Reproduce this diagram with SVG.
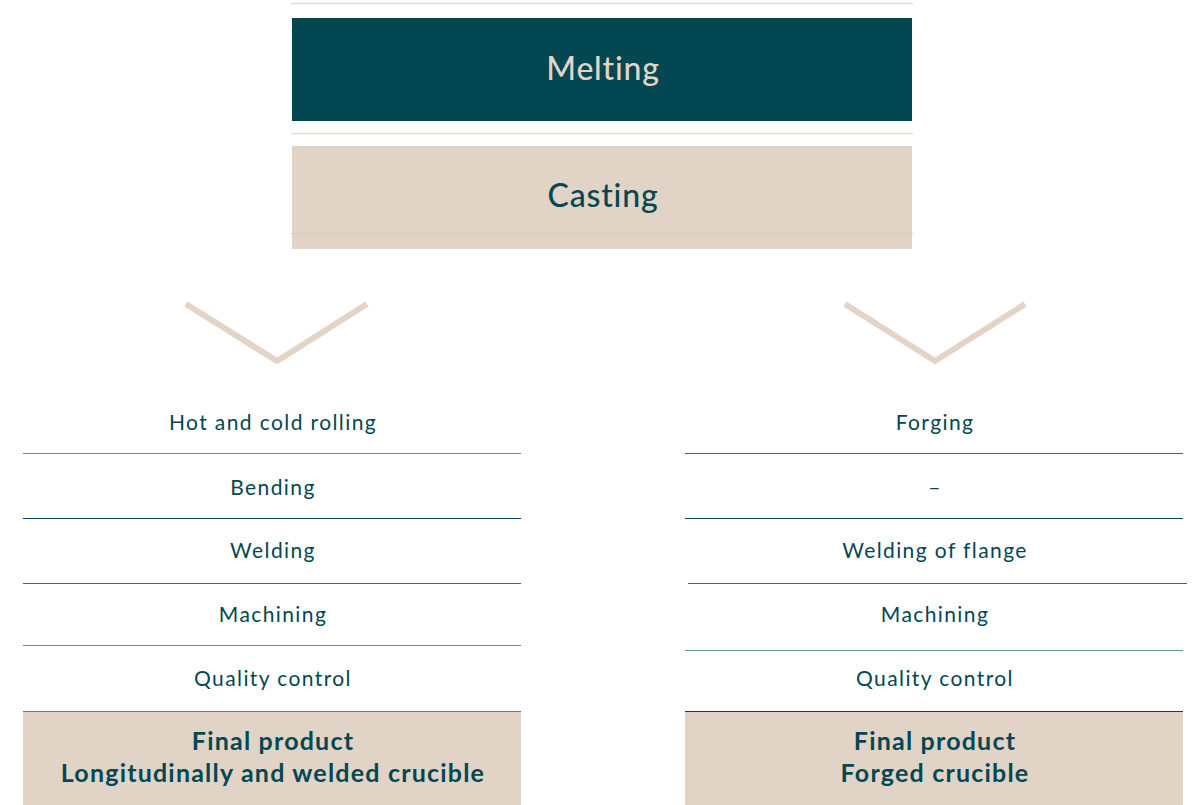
<svg xmlns="http://www.w3.org/2000/svg" width="1198" height="805" viewBox="0 0 1198 805">
<style>
text{font-variant-ligatures:none}
.sep{stroke:#e6dbcf;stroke-width:1.5}
.row{stroke:#024751;stroke-width:1}
.lbl{font-family:Lato,"Open Sans",sans-serif;font-size:21px;letter-spacing:1.4px;fill:#024751;text-anchor:middle}
.big{font-family:Lato,"Open Sans",sans-serif;font-size:32px;letter-spacing:0.8px;font-weight:500;text-anchor:middle}
.fin{font-family:Lato,"Open Sans",sans-serif;font-size:25px;letter-spacing:1.2px;font-weight:bold;fill:#024751;text-anchor:middle}
.chev{fill:none;stroke:#e2d5c8;stroke-width:6}
</style>
<rect width="1198" height="805" fill="#ffffff"/>
<g id="separators">
<line class="sep" x1="291" y1="3.5" x2="913" y2="3.5"/>
<line class="sep" x1="291" y1="133.5" x2="913" y2="133.5"/>
</g>
<g id="melting">
<rect x="292" y="18" width="620" height="103" fill="#024751"/>
<text class="big" x="603" y="80" fill="#e2d4c6">Melting</text>
</g>
<g id="casting">
<rect x="292" y="146" width="620" height="103" fill="#e1d4c7"/>
<line x1="291" y1="233.5" x2="913" y2="233.5" stroke="#d8cbbd" stroke-width="1"/>
<text class="big" x="603" y="207" fill="#024751">Casting</text>
</g>
<g id="connectors">
<polyline class="chev" points="186,304 277,361 367,304"/>
<polyline class="chev" points="845,304 935,361 1025,304"/>
</g>
<g id="left-column">
<text class="lbl" x="273" y="430">Hot and cold rolling</text>
<line class="row" x1="23" y1="453.5" x2="521" y2="453.5" stroke-opacity="0.6"/>
<text class="lbl" x="273" y="495">Bending</text>
<line class="row" x1="23" y1="518.5" x2="521" y2="518.5"/>
<text class="lbl" x="273" y="558">Welding</text>
<line class="row" x1="23" y1="583.5" x2="521" y2="583.5" stroke-opacity="0.8"/>
<text class="lbl" x="273" y="622">Machining</text>
<line class="row" x1="23" y1="645.5" x2="521" y2="645.5" stroke-opacity="0.6"/>
<text class="lbl" x="273" y="686">Quality control</text>
</g>
<g id="left-final">
<rect x="23" y="711" width="498" height="94" fill="#e1d4c7"/>
<line class="row" x1="23" y1="711.5" x2="521" y2="711.5" stroke-opacity="0.6"/>
<text class="fin" x="273" y="750">Final product</text>
<text class="fin" x="273" y="782">Longitudinally and welded crucible</text>
</g>
<g id="right-column">
<text class="lbl" x="935" y="430">Forging</text>
<line class="row" x1="685" y1="453.5" x2="1183" y2="453.5" stroke-opacity="0.8"/>
<text class="lbl" x="935" y="495">–</text>
<line class="row" x1="685" y1="518.5" x2="1183" y2="518.5"/>
<text class="lbl" x="935" y="558">Welding of flange</text>
<line class="row" x1="688" y1="583.5" x2="1187" y2="583.5" stroke-opacity="0.8"/>
<text class="lbl" x="935" y="622">Machining</text>
<line class="row" x1="685" y1="650.5" x2="1183" y2="650.5" stroke-opacity="0.6"/>
<text class="lbl" x="935" y="686">Quality control</text>
</g>
<g id="right-final">
<rect x="685" y="711" width="498" height="94" fill="#e1d4c7"/>
<line class="row" x1="685" y1="711.5" x2="1183" y2="711.5"/>
<text class="fin" x="935" y="750">Final product</text>
<text class="fin" x="935" y="782">Forged crucible</text>
</g>
</svg>
